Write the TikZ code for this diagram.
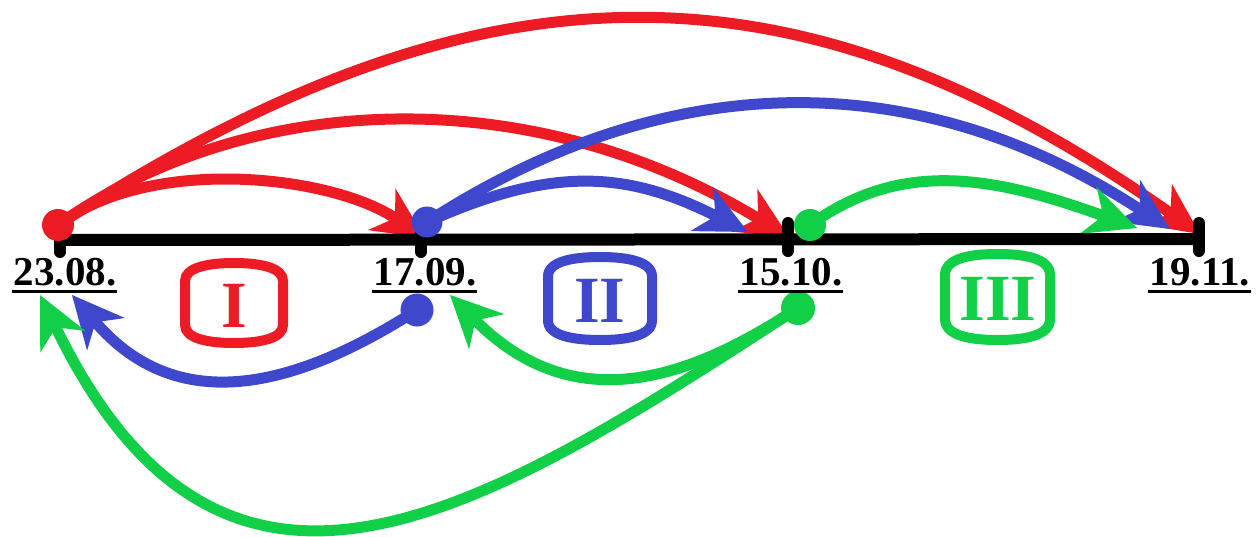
\documentclass[tikz,border=0pt]{standalone}
\usepackage{fontspec}
\setmainfont{Liberation Serif}
\usetikzlibrary{arrows.meta}
\definecolor{cred}{RGB}{237,28,36}
\definecolor{cblue}{RGB}{63,72,204}
\definecolor{cgreen}{RGB}{17,208,72}
\tikzset{
  conn/.style={line width=11pt, -{Stealth[length=52pt,width=50pt,inset=16pt,line width=0pt]}},
  datelabel/.style={font=\fontsize{41}{41}\selectfont\bfseries, inner sep=0pt, anchor=base},
  numlabel/.style={font=\fontsize{66}{66}\selectfont\bfseries, inner sep=0pt, anchor=base},
  boxline/.style={line width=10pt},
  axisline/.style={line width=12pt},
  ticks/.style={line width=12pt, line cap=round},
  uline/.style={line width=3.5pt},
  dot/.style={circle, inner sep=0pt, minimum size=#1}
}
\newcommand{\barrelbox}[5]{% cx, cy, a, h, color
  \draw[boxline, #5] (#1-#3, #2-22) .. controls (#1-#3, #2-#4+4) and (#1-0.5*#3, #2-#4) .. (#1, #2-#4)
    .. controls (#1+0.5*#3, #2-#4) and (#1+#3, #2-#4+4) .. (#1+#3, #2-22)
    -- (#1+#3, #2+22) .. controls (#1+#3, #2+#4-4) and (#1+0.5*#3, #2+#4) .. (#1, #2+#4)
    .. controls (#1-0.5*#3, #2+#4) and (#1-#3, #2+#4-4) .. (#1-#3, #2+22) -- cycle;
}
\begin{document}
\begin{tikzpicture}[x=1pt,y=-1pt]
\useasboundingbox (0,0) rectangle (1259,536);
% axis points
\coordinate (t1) at (60,240);
\coordinate (t2) at (421,240);
\coordinate (t3) at (788,239);
\coordinate (t4) at (1199,239);
% dots
\coordinate (rdot) at (58,225);
\coordinate (bdot) at (427,222);
\coordinate (gdot) at (810,225);
\coordinate (bdotlow) at (417,310);
\coordinate (gdotlow) at (798,308);
% arrow ends
\coordinate (rA) at (425,238);
\coordinate (rB) at (789,237);
\coordinate (rC) at (1200,234);
\coordinate (bA) at (748,232);
\coordinate (bB) at (1170,229);
\coordinate (gA) at (1137,228);
\coordinate (bL) at (72,295);
\coordinate (gL1) at (450,295);
\coordinate (gL2) at (40,295);

% boxes
\barrelbox{234}{303}{49}{40}{cred}
\barrelbox{600}{298.5}{52}{41.5}{cblue}
\barrelbox{997.5}{297}{52.5}{43}{cgreen}
\node[numlabel, text=cred] (n1) at (234,327) {I};
\node[numlabel, text=cblue] (n2) at (600,322) {II};
\node[numlabel, text=cgreen] (n3) at (998,320) {III};

% red arrows
\draw[conn, cred] (rdot) .. controls (481,-50) and (796,-50) .. (rC);
\draw[conn, cred] (rdot) .. controls (240,95) and (520,75) .. (rB);
\draw[conn, cred] (rdot) .. controls (150,155) and (330,175) .. (rA);
% blue arrows
\draw[conn, cblue] (bdot) .. controls (669,65) and (918,65) .. (bB);
\draw[conn, cblue] (bdot) .. controls (554,165) and (628,172) .. (bA);
\draw[conn, cblue] (bdotlow) .. controls (300,385) and (180,420) .. (bL);
% green arrows
\draw[conn, cgreen] (gdot) .. controls (900,160) and (990,175) .. (gA);
\draw[conn, cgreen] (gdotlow) .. controls (700,372) and (580,425) .. (gL1);
\draw[conn, cgreen] (gdotlow) .. controls (480,515) and (225,675) .. (gL2);

% axis
\draw[axisline] (t1) -- (t4);
\foreach \t in {t1,t2,t3,t4} {
  \draw[ticks] ([yshift=16pt]\t) -- ([yshift=-12pt]\t);
}

% dots
\node[dot=32pt, fill=cred] (rd) at (rdot) {};
\node[dot=31pt, fill=cblue] (bd) at (bdot) {};
\node[dot=32pt, fill=cgreen] (gd) at (gdot) {};
\node[dot=33pt, fill=cblue] (bd2) at (bdotlow) {};
\node[dot=34pt, fill=cgreen] (gd2) at (gdotlow) {};

% date labels
\node[datelabel] (d1) at (65,285) {23.08.};
\node[datelabel] (d2) at (425,285) {17.09.};
\node[datelabel] (d3) at (791,285) {15.10.};
\node[datelabel] (d4) at (1200,285) {19.11.};
\foreach \d in {d1,d2,d3,d4} {
  \draw[uline] ([xshift=-2pt,yshift=-6.5pt]\d.base west) -- ([xshift=1pt,yshift=-6.5pt]\d.base east);
}
\end{tikzpicture}
\end{document}
